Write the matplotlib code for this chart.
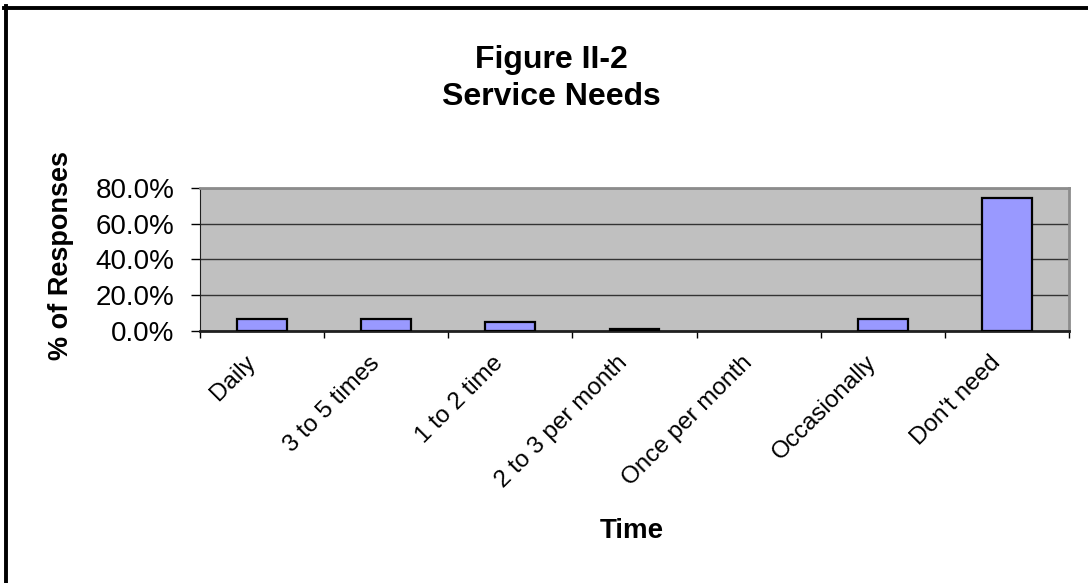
import numpy as np
import matplotlib.pyplot as plt
import matplotlib.transforms as mtransforms
from matplotlib.ticker import PercentFormatter, FixedLocator
from matplotlib.lines import Line2D

plt.rcParams['font.family'] = ['Liberation Sans', 'DejaVu Sans']

# survey responses, percent of respondents
categories = ["Daily", "3 to 5 times", "1 to 2 time", "2 to 3 per month",
              "Once per month", "Occasionally", "Don't need"]
responses = [6.5, 6.5, 5.0, 0.8, 0.0, 6.5, 74.6]

fig = plt.figure(figsize=(10.88, 5.83), dpi=100)
ax = fig.add_axes([0.1838, 0.4331, 0.7987, 0.2436])

x = np.arange(len(categories))
# zero-height bars get no outline
edge_widths = [1.6 if v > 0 else 0 for v in responses]
ax.bar(x, responses, width=0.4, color='#9999FF', edgecolor='black',
       linewidth=edge_widths, zorder=3)

ax.set_facecolor('#C0C0C0')
ax.set_xlim(-0.5, len(categories) - 0.5)
ax.set_ylim(0, 80)
ax.set_yticks(np.arange(0, 81, 20))
ax.yaxis.set_major_formatter(PercentFormatter(xmax=100, decimals=1))
ax.grid(axis='y', color='#333333', linewidth=1.0)
ax.set_axisbelow(True)

# tick marks between categories, labels at category centres
ax.xaxis.set_major_locator(FixedLocator(np.arange(len(categories) + 1) - 0.5))
ax.xaxis.set_major_formatter(plt.NullFormatter())
ax.set_xticks(x, minor=True)
ax.set_xticklabels(categories, minor=True, rotation=45, ha='right', va='center',
                   rotation_mode='anchor', fontsize=17.5)
ax.tick_params(axis='x', which='major', length=5, width=1, color='black')
ax.tick_params(axis='x', which='minor', length=0, pad=21)
ax.tick_params(axis='y', length=6.5, width=1, color='black', pad=12, labelsize=20)

# nudge the slanted labels a little to the left
shift = mtransforms.ScaledTranslation(-10 / 100, 0, fig.dpi_scale_trans)
for lbl in ax.get_xticklabels(minor=True):
    lbl.set_transform(lbl.get_transform() + shift)

for side in ['top', 'right']:
    ax.spines[side].set_color('#8C8C8C')
    ax.spines[side].set_linewidth(2)
ax.spines['left'].set_color('#202020')
ax.spines['bottom'].set_color('#202020')
ax.spines['bottom'].set_linewidth(2)

ax.set_ylabel("% of Responses", fontsize=19.5, fontweight='bold')
ax.yaxis.set_label_coords(-0.145, 0.53)
ax.set_xlabel("Time", fontsize=20, fontweight='bold')
ax.xaxis.set_label_coords(0.497, -1.32)

fig.text(0.507, 0.865, "Figure II-2\nService Needs", ha='center', va='center',
         fontsize=23, fontweight='bold', linespacing=1.3)

# outer frame (left and top edges)
fig.add_artist(Line2D([5.5 / 1088, 5.5 / 1088], [0, 1 - 6 / 583], color='black', linewidth=2.8))
fig.add_artist(Line2D([4 / 1088, 1], [1 - 8 / 583, 1 - 8 / 583], color='black', linewidth=2.8))

plt.savefig('out.png', dpi=100)
